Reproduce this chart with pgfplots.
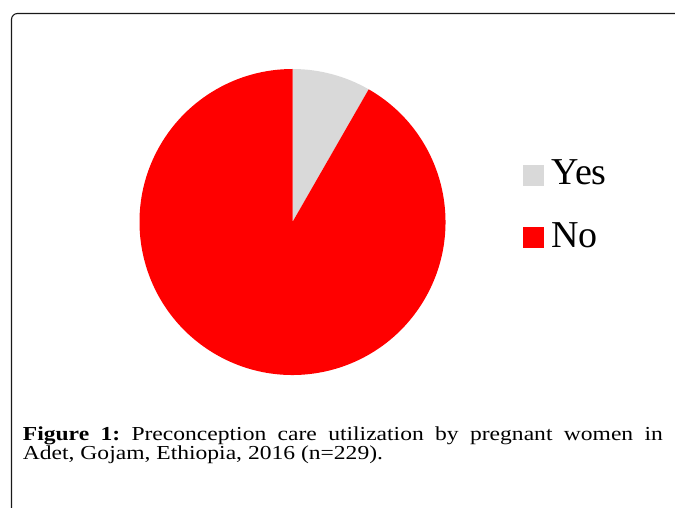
\documentclass[border=0pt]{standalone}
\usepackage{fontspec}
\setmainfont{Liberation Serif}
\newfontfamily\capfont[FakeStretch=1.19]{Liberation Serif}
\usepackage{pgfplots}
\usepackage{pgfplotstable}
\pgfplotsset{compat=1.18}

\definecolor{yesgray}{HTML}{D9D9D9}
\definecolor{nored}{HTML}{FF0000}

% preconception care use, n=229
\pgfplotstableread{
label count
Yes 19
No 210
}\careuse

\pgfplotstablegetelem{0}{count}\of\careuse \let\nyes\pgfplotsretval
\pgfplotstablegetelem{1}{count}\of\careuse \let\nno\pgfplotsretval
\pgfmathsetmacro\ayes{\nyes/(\nyes+\nno)*360}
\pgfmathsetmacro\asplit{90-\ayes}

\begin{document}
\frenchspacing
\begin{tikzpicture}[x=1pt,y=1pt]
\useasboundingbox (0,0) rectangle (675,507);
\clip (0,0) rectangle (675,507);
\draw[line width=1.1pt, rounded corners=6pt, black!90] (11.5,-20) -- (11.5,493.5) -- (700,493.5);

\begin{axis}[
    at={(292.5pt,285pt)}, anchor=center,
    width=306pt, height=306pt, scale only axis,
    xmin=-1, xmax=1, ymin=-1, ymax=1,
    axis lines=none,
    legend cell align=left,
    legend style={at={(1.2533,0.7059)}, anchor=north west,
        draw=none, fill=none, inner sep=0pt, outer sep=0pt,
        column sep=8pt, row sep=36pt,
        font=\fontsize{38}{42}\selectfont,
        nodes={inner sep=0pt, text height=26pt, text depth=0pt}},
]
\fill[yesgray] (axis cs:0,0) -- (axis cs:0,1)
    arc[start angle=90, end angle=\asplit, radius=1] -- cycle;
\fill[nored] (axis cs:0,0) -- (axis cs:{cos(\asplit)},{sin(\asplit)})
    arc[start angle=\asplit, end angle=-270, radius=1] -- cycle;
\addlegendimage{legend image code/.code={\fill[yesgray] (0pt,-13pt) rectangle (20pt,7pt);}}
\addlegendentry{Yes}
\addlegendimage{legend image code/.code={\fill[nored] (0pt,-13pt) rectangle (20pt,7pt);}}
\addlegendentry{No}
\end{axis}

\node[anchor=base west, inner sep=0pt, font=\capfont\fontsize{19.8}{20}\selectfont] at (22.7,67)
    {\makebox[640pt][s]{\textbf{Figure 1:} Preconception care utilization by pregnant women in}};
\node[anchor=base west, inner sep=0pt, font=\capfont\fontsize{19.8}{20}\selectfont] at (22.7,48)
    {Adet, Gojam, Ethiopia, 2016 (n=229).};
\end{tikzpicture}
\end{document}
